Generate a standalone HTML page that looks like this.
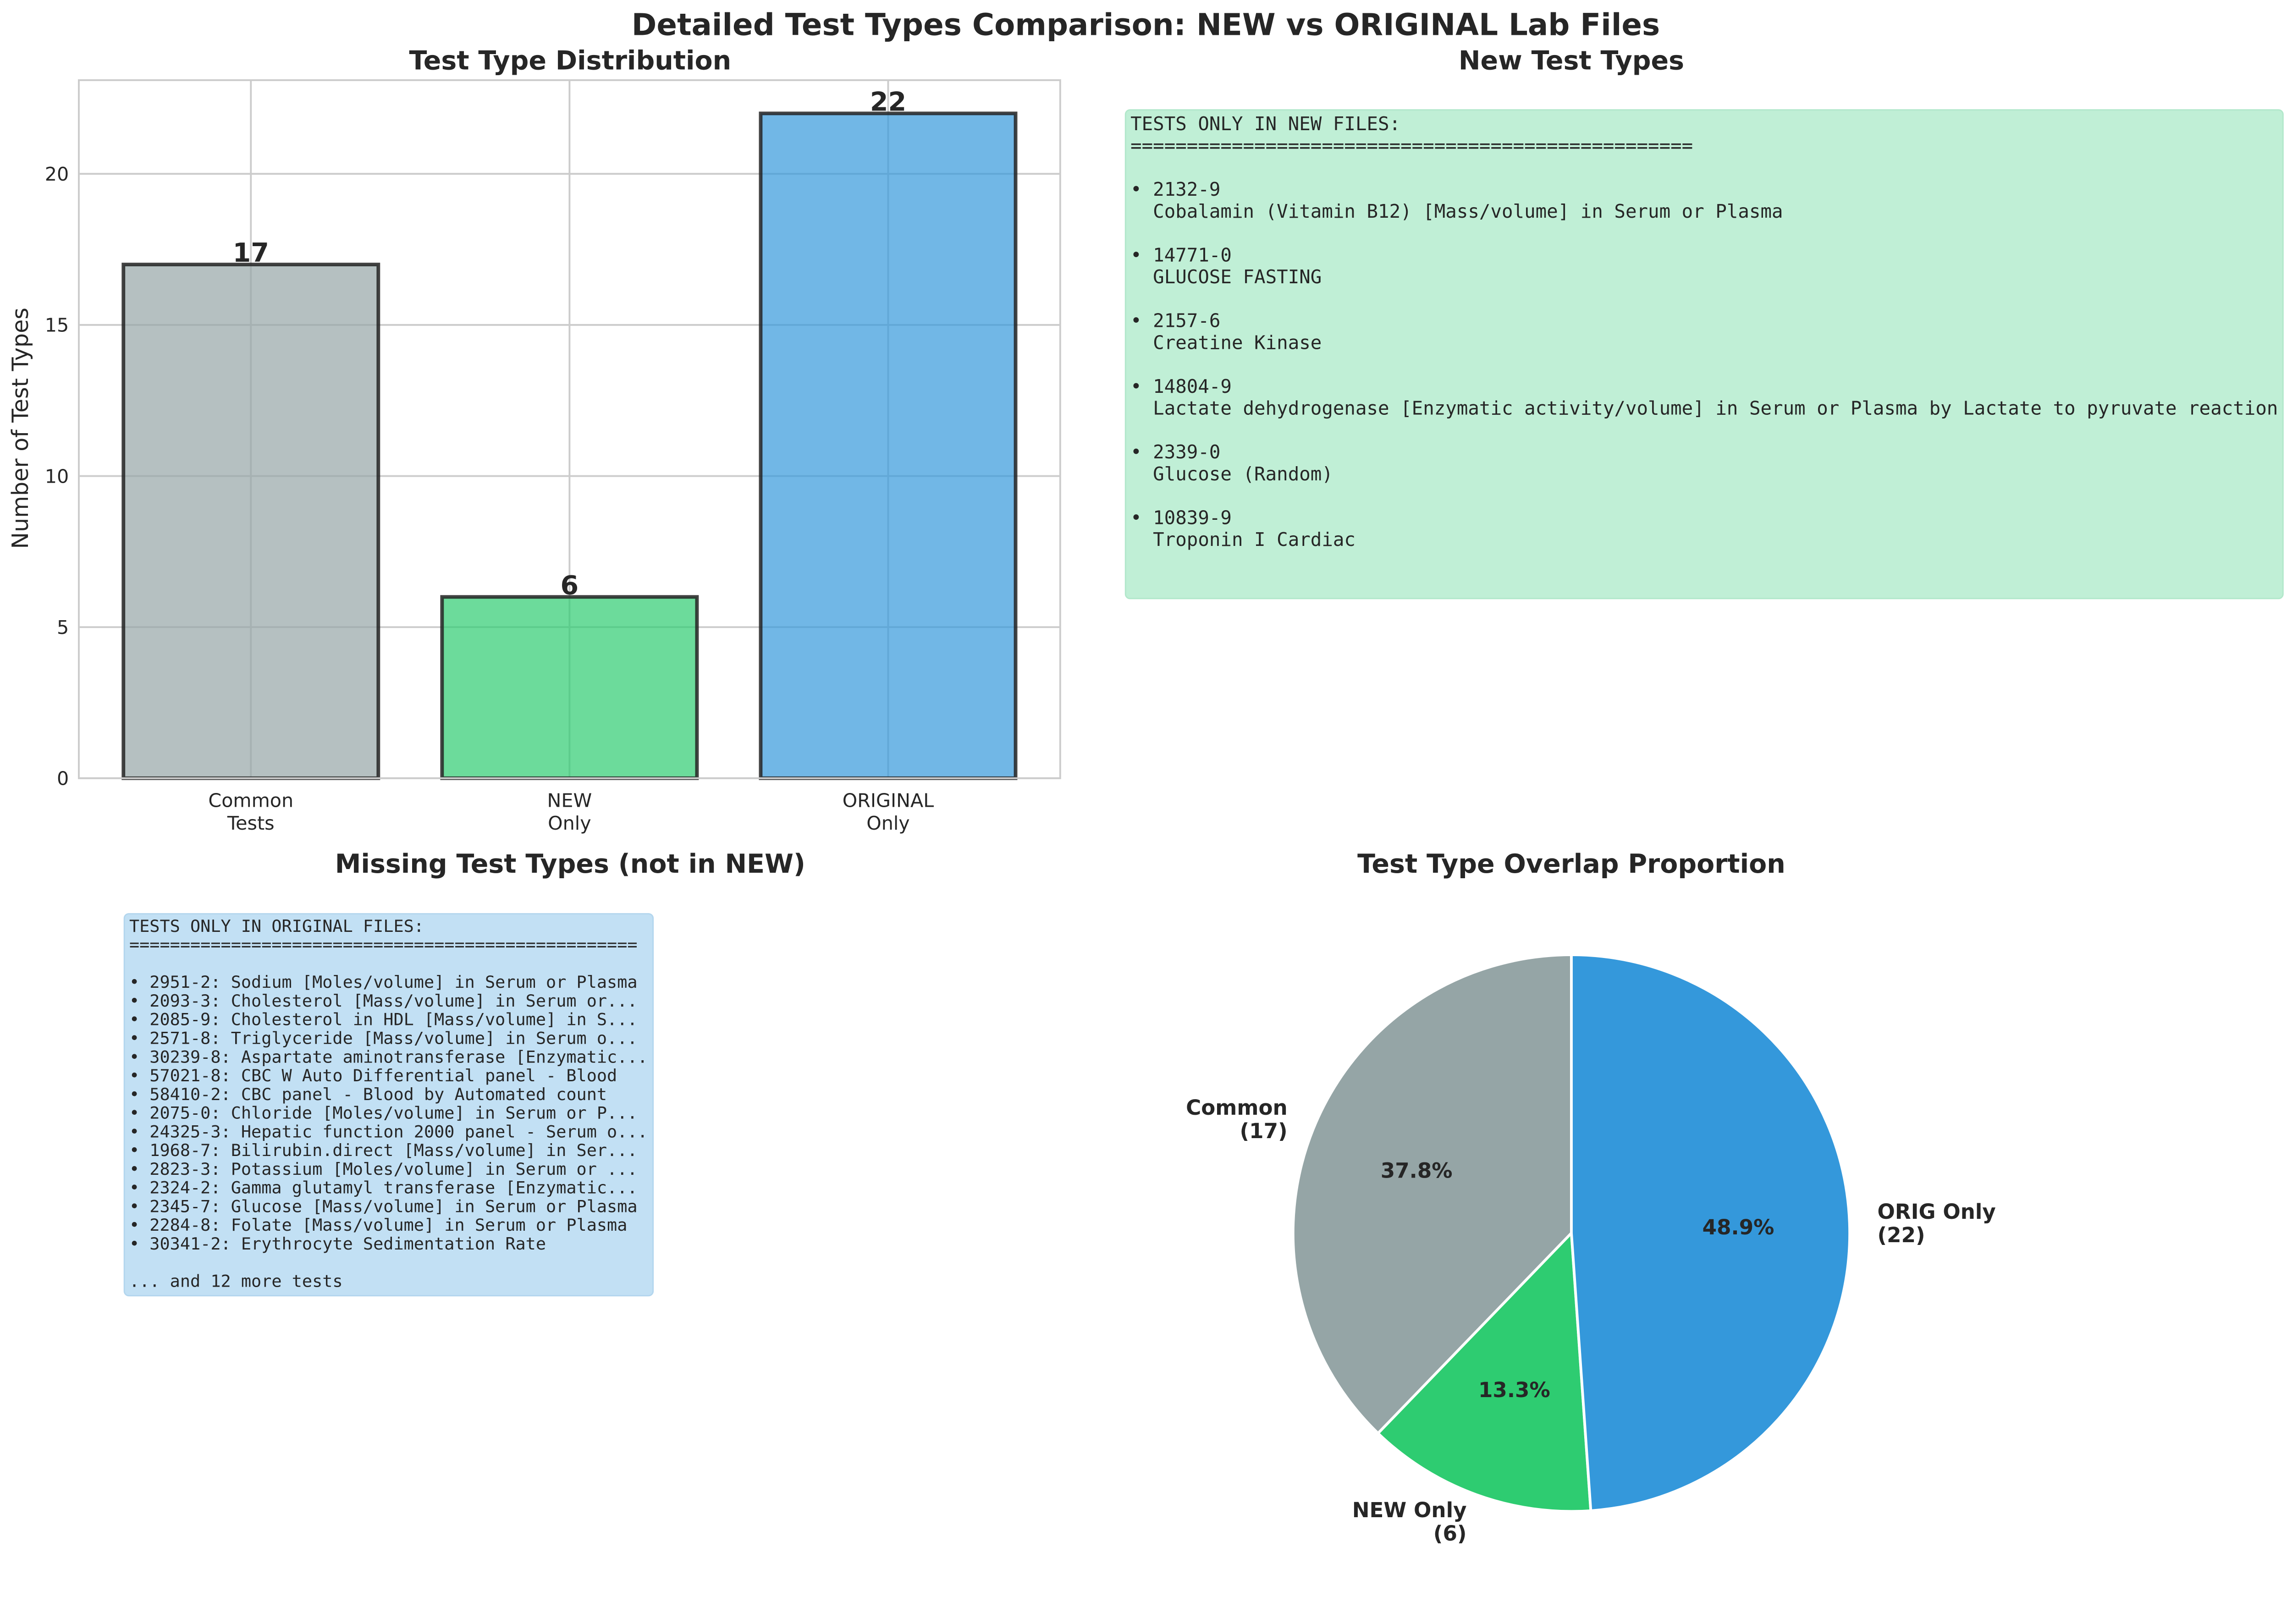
<!DOCTYPE html>
<html><head><meta charset="utf-8"><style>
html,body{margin:0;padding:0;background:#fff;overflow:hidden;}
svg{display:block;width:100vw;height:69.622vw;}
text{font-family:"DejaVu Sans","Liberation Sans",sans-serif;fill:#262626;}
.mono{font-family:"DejaVu Sans Mono","Liberation Mono",monospace;white-space:pre;}
</style></head><body>
<svg id="fig" xmlns="http://www.w3.org/2000/svg" viewBox="0 0 5089 3543" preserveAspectRatio="none">
<text x="2544" y="78" font-size="67" font-weight="bold" text-anchor="middle">Detailed Test Types Comparison: NEW vs ORIGINAL Lab Files</text>
<g id="bar-panel"></g>
<g id="new-panel"></g>
<g id="miss-panel"></g>
<g id="pie-panel"></g>
</svg>
<script>
const categories = ["Common\nTests", "NEW\nOnly", "ORIGINAL\nOnly"];
const counts = [17, 6, 22];
const barColors = ["#95a5a6", "#2ecc71", "#3498db"];
const yTicks = [0, 5, 10, 15, 20];
const pieLabels = ["Common\n(17)", "NEW Only\n(6)", "ORIG Only\n(22)"];
const pieValues = [17, 6, 22];
const newTests = [
 ["2132-9","Cobalamin (Vitamin B12) [Mass/volume] in Serum or Plasma"],
 ["14771-0","GLUCOSE FASTING"],
 ["2157-6","Creatine Kinase"],
 ["14804-9","Lactate dehydrogenase [Enzymatic activity/volume] in Serum or Plasma by Lactate to pyruvate reaction"],
 ["2339-0","Glucose (Random)"],
 ["10839-9","Troponin I Cardiac"]
];
const missingTests = [
 "2951-2: Sodium [Moles/volume] in Serum or Plasma",
 "2093-3: Cholesterol [Mass/volume] in Serum or...",
 "2085-9: Cholesterol in HDL [Mass/volume] in S...",
 "2571-8: Triglyceride [Mass/volume] in Serum o...",
 "30239-8: Aspartate aminotransferase [Enzymatic...",
 "57021-8: CBC W Auto Differential panel - Blood",
 "58410-2: CBC panel - Blood by Automated count",
 "2075-0: Chloride [Moles/volume] in Serum or P...",
 "24325-3: Hepatic function 2000 panel - Serum o...",
 "1968-7: Bilirubin.direct [Mass/volume] in Ser...",
 "2823-3: Potassium [Moles/volume] in Serum or ...",
 "2324-2: Gamma glutamyl transferase [Enzymatic...",
 "2345-7: Glucose [Mass/volume] in Serum or Plasma",
 "2284-8: Folate [Mass/volume] in Serum or Plasma",
 "30341-2: Erythrocyte Sedimentation Rate"
];
const moreCount = 12;

const NS = "http://www.w3.org/2000/svg";
function mk(parent, tag, attrs, txt){
  const e = document.createElementNS(NS, tag);
  for (const k in attrs) e.setAttribute(k, attrs[k]);
  if (txt !== undefined) e.textContent = txt;
  parent.appendChild(e);
  return e;
}

// ---- Bar chart ----
const bp = document.getElementById('bar-panel');
const AX = {l:175, r:2354, t:178, b:1728};
const xmin = -0.54, xmax = categories.length - 1 + 0.54, ymax = 23.1;
const xs = v => AX.l + (v - xmin) / (xmax - xmin) * (AX.r - AX.l);
const ys = v => AX.b - v / ymax * (AX.b - AX.t);
let t = mk(bp,'text',{x:1266,y:154,'font-size':58,'font-weight':'bold','text-anchor':'middle'},'Test Type Distribution');
 
yTicks.forEach(v=>{
  const g = mk(bp,'line',{x1:AX.l,x2:AX.r,y1:ys(v),y2:ys(v),stroke:'#cccccc','stroke-width':4});
   
  const tl = mk(bp,'text',{x:AX.l-22,y:ys(v)+15,'font-size':42,'text-anchor':'end'},String(v));
   
});
categories.forEach((c,i)=>{
  const g = mk(bp,'line',{x1:xs(i),x2:xs(i),y1:AX.t,y2:AX.b,stroke:'#cccccc','stroke-width':4});
   
});
counts.forEach((v,i)=>{
  const w = 0.8 * (xs(1)-xs(0));
  const r = mk(bp,'rect',{x:xs(i)-w/2,y:ys(v),width:w,height:ys(0)-ys(v),fill:barColors[i],'fill-opacity':0.7,stroke:'#222','stroke-opacity':0.85,'stroke-width':8});
   
  const lb = mk(bp,'text',{x:xs(i),y:ys(v)-6,'font-size':58,'font-weight':'bold','text-anchor':'middle'},String(v));
   
  const parts = categories[i].split('\n');
  parts.forEach((p,j)=>{
    const tl = mk(bp,'text',{x:xs(i),y:1792+j*50,'font-size':42,'text-anchor':'middle'},p);
     
  });
});
const fr = mk(bp,'rect',{x:AX.l,y:AX.t,width:AX.r-AX.l,height:AX.b-AX.t,fill:'none',stroke:'#cccccc','stroke-width':4});
 
const yl = mk(bp,'text',{x:0,y:0,'font-size':50,'text-anchor':'middle',transform:'translate(62,951) rotate(-90)'},'Number of Test Types');
 

// ---- New tests box ----
const np = document.getElementById('new-panel');
t = mk(np,'text',{x:3489,y:154,'font-size':58,'font-weight':'bold','text-anchor':'middle'},'New Test Types');
 
const nb = mk(np,'rect',{x:2499,y:244,width:2570,height:1085,rx:10,fill:'#c0efd6',stroke:'#b2e8cb','stroke-width':3});
 
let newLines = ["TESTS ONLY IN NEW FILES:", "=".repeat(50), ""];
newTests.forEach(([id,nm])=>{ newLines.push("\u2022 "+id); newLines.push("  "+nm); newLines.push(""); });
newLines.forEach((ln,k)=>{
  const tl = mk(np,'text',{x:2510,y:289+k*48.6,'font-size':41.5,'class':'mono'},ln);
   
});

// ---- Missing tests box ----
const mp = document.getElementById('miss-panel');
t = mk(mp,'text',{x:1266,y:1938,'font-size':58,'font-weight':'bold','text-anchor':'middle'},'Missing Test Types (not in NEW)');
 
const mb = mk(mp,'rect',{x:276,y:2029,width:1174,height:848,rx:10,fill:'#c2e0f4',stroke:'#b3d6ee','stroke-width':3});
 
let missLines = ["TESTS ONLY IN ORIGINAL FILES:", "=".repeat(50), ""];
missingTests.forEach(s=>missLines.push("\u2022 "+s));
missLines.push(""); missLines.push("... and "+moreCount+" more tests");
missLines.forEach((ln,k)=>{
  const tl = mk(mp,'text',{x:287,y:2069+k*41.5,'font-size':37.5,'class':'mono'},ln);
   
});

// ---- Pie ----
const pp = document.getElementById('pie-panel');
t = mk(pp,'text',{x:3489,y:1938,'font-size':58,'font-weight':'bold','text-anchor':'middle'},'Test Type Overlap Proportion');
 
const cx=3489, cy=2738, R=618;
const total = pieValues.reduce((a,b)=>a+b,0);
let ang = 90;
const pt = (a,r)=>[cx + r*Math.cos(a*Math.PI/180), cy - r*Math.sin(a*Math.PI/180)];
pieValues.forEach((v,i)=>{
  const sweep = v/total*360;
  const a0 = ang, a1 = ang + sweep;
  const [x0,y0]=pt(a0,R), [x1,y1]=pt(a1,R);
  const d = `M${cx},${cy} L${x0},${y0} A${R},${R} 0 ${sweep>180?1:0} 0 ${x1},${y1} Z`;
  const s = mk(pp,'path',{d:d,fill:barColors[i],stroke:'#ffffff','stroke-width':6});
   
  const mid = (a0+a1)/2;
  const [lx,ly] = pt(mid, R*1.1);
  const anchor = Math.cos(mid*Math.PI/180) < 0 ? 'end' : 'start';
  const parts = pieLabels[i].split('\n');
  const lt = mk(pp,'text',{x:lx,y:ly-8,'font-size':46,'font-weight':'bold','text-anchor':anchor});
   
  parts.forEach((p,j)=>{ mk(lt,'tspan',{x:lx,dy:j===0?0:52},p); });
  const [px,py] = pt(mid, R*0.6);
  const pc = mk(pp,'text',{x:px,y:py+16,'font-size':46,'font-weight':'bold','text-anchor':'middle'},(v/total*100).toFixed(1)+'%');
   
  ang = a1;
});
</script>
</body></html>
